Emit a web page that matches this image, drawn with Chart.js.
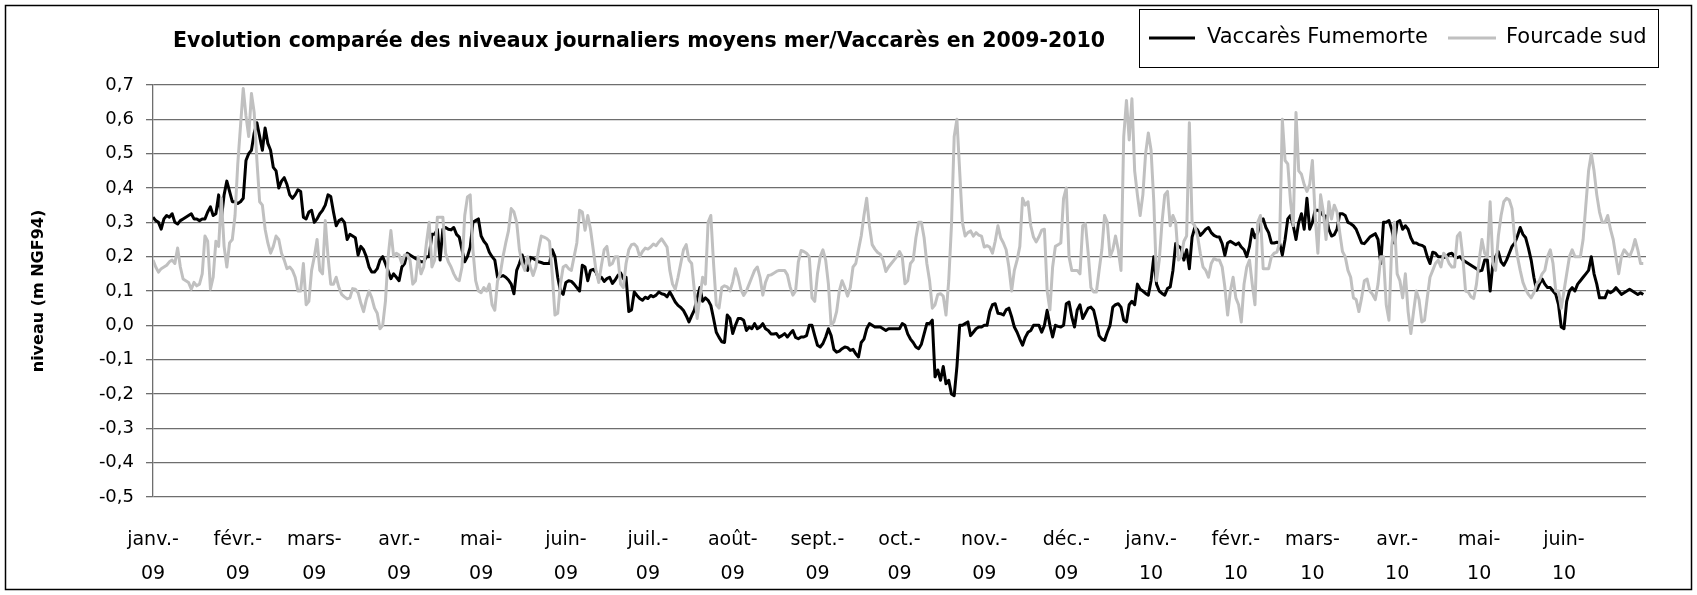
<!DOCTYPE html>
<html><head><meta charset="utf-8">
<script src="https://cdn.jsdelivr.net/npm/chart.js@4"></script>
<style>html,body{margin:0;padding:0;background:#fff}canvas{display:block}</style>
</head><body>
<canvas id="c" width="1697" height="595"></canvas>
<script>
// Day index 0 = 1 Jan 2009
const tickDays = [0,31,59,90,120,151,181,212,243,273,304,334,365,396,424,455,485,516];
const tickMonths = ["janv.-","févr.-","mars-","avr.-","mai-","juin-","juil.-","août-","sept.-","oct.-","nov.-","déc.-","janv.-","févr.-","mars-","avr.-","mai-","juin-"];
const tickYears = ["09","09","09","09","09","09","09","09","09","09","09","09","10","10","10","10","10","10"];
const yTicks = [-0.5,-0.4,-0.3,-0.2,-0.1,0,0.1,0.2,0.3,0.4,0.5,0.6,0.7];

const vaccares = [
0.315,0.305,0.30,0.28,0.31,0.32,0.315,0.325,0.30,0.295,
0.305,0.31,0.315,0.32,0.325,0.31,0.31,0.305,0.31,0.31,
0.33,0.345,0.32,0.325,0.38,0.31,0.38,0.42,0.39,0.36,
0.36,0.355,0.36,0.37,0.48,0.50,0.51,0.56,0.59,0.55,
0.51,0.575,0.53,0.51,0.46,0.45,0.40,0.42,0.43,0.41,
0.38,0.37,0.38,0.395,0.39,0.315,0.31,0.33,0.335,0.30,
0.31,0.325,0.335,0.35,0.38,0.375,0.33,0.29,0.305,0.31,
0.30,0.25,0.265,0.26,0.255,0.205,0.23,0.22,0.2,0.17,
0.155,0.155,0.165,0.19,0.2,0.18,0.158,0.136,0.15,0.14,
0.13,0.17,0.18,0.21,0.205,0.2,0.195,0.19,0.185,0.185,
0.2,0.2,0.265,0.265,0.28,0.19,0.28,0.285,0.28,0.278,
0.285,0.265,0.257,0.22,0.185,0.2,0.228,0.3,0.305,0.31,
0.26,0.245,0.235,0.213,0.2,0.19,0.14,0.142,0.145,0.14,
0.132,0.12,0.092,0.16,0.18,0.205,0.18,0.16,0.198,0.195,
0.19,0.185,0.183,0.18,0.18,0.18,0.22,0.2,0.14,0.1,
0.09,0.125,0.13,0.128,0.12,0.11,0.1,0.175,0.17,0.13,
0.16,0.163,0.155,0.135,0.14,0.128,0.136,0.14,0.122,0.132,
0.145,0.153,0.136,0.14,0.04,0.045,0.097,0.087,0.078,0.073,
0.082,0.078,0.087,0.083,0.088,0.097,0.092,0.09,0.083,0.097,
0.083,0.068,0.058,0.052,0.043,0.028,0.01,0.028,0.045,0.08,
0.11,0.07,0.08,0.073,0.058,0.02,-0.02,-0.035,-0.048,-0.05,
0.03,0.02,-0.024,0.0,0.02,0.02,0.015,-0.015,-0.005,-0.01,
0.005,-0.01,-0.005,0.005,-0.01,-0.015,-0.025,-0.025,-0.024,-0.035,
-0.03,-0.024,-0.034,-0.024,-0.015,-0.035,-0.039,-0.034,-0.034,-0.03,
0.0,0.0,-0.03,-0.058,-0.063,-0.053,-0.034,-0.01,-0.03,-0.07,
-0.078,-0.075,-0.068,-0.063,-0.065,-0.073,-0.07,-0.083,-0.092,-0.05,
-0.04,-0.01,0.005,0.0,-0.005,-0.005,-0.005,-0.01,-0.015,-0.01,
-0.01,-0.01,-0.01,-0.01,0.005,0.0,-0.025,-0.04,-0.05,-0.063,
-0.068,-0.055,-0.025,0.005,0.005,0.015,-0.15,-0.13,-0.16,-0.12,
-0.17,-0.16,-0.2,-0.205,-0.12,0.0,0.0,0.005,0.01,-0.03,
-0.02,-0.01,-0.005,-0.005,0.0,0.0,0.04,0.06,0.063,0.035,
0.034,0.03,0.045,0.05,0.025,-0.005,-0.02,-0.04,-0.058,-0.035,
-0.02,-0.015,0.0,0.0,0.0,-0.02,0.0,0.044,0.0,-0.034,
0.0,-0.003,-0.005,0.0,0.063,0.068,0.025,-0.005,0.045,0.06,
0.02,0.035,0.05,0.053,0.044,0.01,-0.03,-0.04,-0.044,-0.02,
0.0,0.053,0.06,0.063,0.053,0.015,0.01,0.06,0.07,0.06,
0.12,0.105,0.1,0.093,0.088,0.13,0.2,0.12,0.1,0.093,
0.088,0.107,0.112,0.16,0.238,0.23,0.225,0.19,0.22,0.165,
0.257,0.285,0.278,0.262,0.27,0.28,0.285,0.27,0.262,0.258,
0.257,0.238,0.204,0.24,0.245,0.24,0.235,0.24,0.228,0.22,
0.2,0.23,0.28,0.255,0.27,0.3,0.31,0.285,0.27,0.24,
0.24,0.242,0.24,0.205,0.25,0.31,0.32,0.29,0.25,0.3,
0.325,0.28,0.37,0.28,0.3,0.335,0.335,0.33,0.32,0.318,
0.28,0.26,0.264,0.28,0.325,0.325,0.32,0.3,0.296,0.29,
0.28,0.26,0.24,0.238,0.247,0.257,0.262,0.267,0.25,0.18,
0.3,0.3,0.305,0.28,0.24,0.3,0.305,0.28,0.29,0.28,
0.255,0.24,0.24,0.235,0.233,0.228,0.2,0.18,0.213,0.21,
0.2,0.2,0.197,0.2,0.208,0.21,0.2,0.197,0.2,0.19,
0.185,0.18,0.175,0.17,0.165,0.158,0.16,0.19,0.19,0.1,
0.18,0.2,0.215,0.185,0.175,0.19,0.21,0.23,0.24,0.26,
0.285,0.265,0.255,0.225,0.19,0.14,0.102,0.12,0.135,0.12,
0.11,0.11,0.1,0.09,0.06,-0.005,-0.01,0.07,0.1,0.11,
0.1,0.12,0.13,0.14,0.15,0.16,0.2,0.15,0.12,0.08,
0.08,0.08,0.1,0.095,0.1,0.11,0.1,0.09,0.095,0.1,
0.105,0.1,0.095,0.09,0.095,0.09
];

const fourcade = [
0.19,0.17,0.155,0.165,0.17,0.175,0.185,0.19,0.18,0.225,
0.17,0.135,0.13,0.125,0.105,0.125,0.115,0.12,0.15,0.26,
0.245,0.105,0.14,0.245,0.23,0.37,0.23,0.17,0.24,0.25,
0.32,0.47,0.58,0.69,0.61,0.55,0.675,0.62,0.48,0.36,
0.35,0.28,0.24,0.21,0.23,0.26,0.25,0.21,0.19,0.165,
0.17,0.16,0.14,0.10,0.10,0.18,0.06,0.07,0.16,0.20,
0.25,0.16,0.15,0.305,0.2,0.12,0.12,0.14,0.11,0.09,
0.083,0.077,0.08,0.107,0.105,0.095,0.065,0.04,0.075,0.1,
0.08,0.05,0.035,-0.01,0.0,0.07,0.2,0.276,0.2,0.21,
0.205,0.18,0.205,0.205,0.19,0.12,0.13,0.2,0.15,0.17,
0.24,0.3,0.17,0.19,0.315,0.315,0.315,0.21,0.185,0.17,
0.15,0.135,0.13,0.17,0.32,0.374,0.38,0.22,0.13,0.1,
0.095,0.11,0.1,0.12,0.06,0.044,0.13,0.15,0.2,0.24,
0.275,0.34,0.33,0.3,0.22,0.18,0.16,0.2,0.17,0.145,
0.17,0.22,0.26,0.257,0.253,0.245,0.15,0.03,0.035,0.12,
0.17,0.175,0.165,0.16,0.2,0.24,0.335,0.33,0.277,0.32,
0.28,0.22,0.16,0.125,0.175,0.22,0.23,0.175,0.18,0.2,
0.2,0.12,0.11,0.18,0.22,0.235,0.237,0.228,0.2,0.215,
0.225,0.222,0.228,0.237,0.232,0.243,0.252,0.24,0.228,0.16,
0.12,0.105,0.14,0.18,0.22,0.235,0.19,0.18,0.1,0.02,
0.08,0.14,0.12,0.3,0.32,0.18,0.06,0.05,0.11,0.115,
0.112,0.1,0.126,0.165,0.14,0.105,0.087,0.1,0.12,0.14,
0.16,0.17,0.14,0.088,0.125,0.145,0.147,0.152,0.157,0.16,
0.16,0.16,0.147,0.112,0.088,0.1,0.185,0.218,0.215,0.21,
0.2,0.08,0.07,0.15,0.2,0.22,0.19,0.12,0.0,0.01,
0.04,0.1,0.13,0.11,0.085,0.11,0.17,0.18,0.22,0.26,
0.32,0.37,0.29,0.235,0.222,0.212,0.207,0.19,0.157,0.17,
0.18,0.19,0.2,0.215,0.2,0.121,0.13,0.18,0.19,0.255,
0.3,0.3,0.255,0.18,0.13,0.05,0.06,0.09,0.092,0.085,
0.03,0.13,0.29,0.55,0.6,0.45,0.3,0.26,0.27,0.275,
0.26,0.27,0.263,0.26,0.228,0.232,0.228,0.21,0.245,0.29,
0.255,0.24,0.22,0.17,0.1,0.16,0.19,0.23,0.37,0.35,
0.36,0.29,0.257,0.243,0.258,0.277,0.28,0.1,0.045,0.17,
0.23,0.235,0.24,0.37,0.4,0.2,0.16,0.16,0.16,0.15,
0.29,0.296,0.21,0.11,0.097,0.097,0.16,0.22,0.32,0.3,
0.2,0.22,0.26,0.22,0.16,0.55,0.655,0.54,0.66,0.45,
0.38,0.32,0.38,0.5,0.56,0.51,0.36,0.13,0.19,0.3,
0.38,0.39,0.29,0.32,0.3,0.19,0.2,0.245,0.26,0.59,
0.3,0.29,0.26,0.21,0.17,0.16,0.14,0.18,0.195,0.19,
0.19,0.17,0.11,0.03,0.1,0.14,0.08,0.06,0.01,0.12,
0.17,0.19,0.12,0.06,0.3,0.32,0.165,0.165,0.165,0.2,
0.21,0.213,0.24,0.6,0.48,0.47,0.36,0.29,0.62,0.45,
0.44,0.41,0.39,0.41,0.48,0.32,0.21,0.38,0.33,0.25,
0.36,0.31,0.35,0.33,0.27,0.215,0.2,0.16,0.14,0.08,
0.075,0.04,0.08,0.13,0.135,0.1,0.09,0.075,0.12,0.2,
0.2,0.06,0.015,0.23,0.3,0.15,0.13,0.08,0.15,0.04,
-0.024,0.04,0.1,0.075,0.01,0.015,0.08,0.14,0.16,0.18,
0.19,0.17,0.21,0.2,0.18,0.17,0.17,0.26,0.27,0.2,
0.1,0.097,0.083,0.078,0.12,0.19,0.25,0.21,0.2,0.36,
0.18,0.16,0.26,0.32,0.36,0.37,0.365,0.34,0.25,0.2,
0.16,0.125,0.105,0.09,0.08,0.095,0.12,0.13,0.15,0.16,
0.2,0.22,0.18,0.1,0.1,0.05,0.1,0.15,0.2,0.22,
0.2,0.2,0.2,0.25,0.35,0.45,0.5,0.45,0.38,0.33,
0.3,0.3,0.32,0.28,0.25,0.2,0.15,0.2,0.22,0.21,
0.2,0.22,0.25,0.22,0.18,0.18
];

const FONT = '"DejaVu Sans", Verdana, sans-serif';

const frameAndText = {
  id: 'frameAndText',
  beforeDraw(chart) {
    const c = chart.ctx;
    c.save();
    c.fillStyle = '#fff';
    c.fillRect(0, 0, chart.width, chart.height);
    c.restore();
  },
  afterDraw(chart) {
    const c = chart.ctx;
    c.save();
    c.strokeStyle = '#000';
    c.lineWidth = 1.5;
    c.strokeRect(5.5, 5.5, 1686, 584);
    c.fillStyle = '#000';
    c.font = 'bold 20.5px ' + FONT;
    c.textAlign = 'center';
    c.textBaseline = 'middle';
    c.fillText('Evolution comparée des niveaux journaliers moyens mer/Vaccarès en 2009-2010', 639, 42);
    c.lineWidth = 1;
    c.strokeStyle = '#000';
    c.strokeRect(1139.5, 9.5, 519, 58);
    const ds = chart.data.datasets;
    c.font = '21px ' + FONT;
    c.textAlign = 'left';
    c.lineWidth = 3;
    c.strokeStyle = ds[0].borderColor;
    c.beginPath(); c.moveTo(1149, 38); c.lineTo(1195, 38); c.stroke();
    c.fillText(ds[0].label, 1207, 38);
    c.strokeStyle = ds[1].borderColor;
    c.beginPath(); c.moveTo(1448, 38); c.lineTo(1496, 38); c.stroke();
    c.fillText(ds[1].label, 1506, 38);
    c.restore();
  }
};

new Chart(document.getElementById('c'), {
  type: 'line',
  data: {
    datasets: [
      { label: 'Vaccarès Fumemorte', data: vaccares.map((v, i) => ({ x: i, y: v })),
        borderColor: '#000000', borderWidth: 3, pointRadius: 0, tension: 0,
        borderJoinStyle: 'round', order: 1 },
      { label: 'Fourcade sud', data: fourcade.map((v, i) => ({ x: i, y: v })),
        borderColor: '#c0c0c0', borderWidth: 3, pointRadius: 0, tension: 0,
        borderJoinStyle: 'round', order: 0 }
    ]
  },
  options: {
    responsive: false,
    animation: false,
    devicePixelRatio: 1,
    layout: { padding: { left: 0, right: 51, top: 85, bottom: 0 } },
    plugins: { legend: { display: false }, title: { display: false }, tooltip: { enabled: false } },
    scales: {
      x: {
        type: 'linear', min: 0, max: 546,
        afterBuildTicks: s => { s.ticks = tickDays.map(v => ({ value: v })); },
        afterFit: s => { s.height = 98; },
        grid: { display: false, drawTicks: false },
        border: { display: false },
        ticks: {
          autoSkip: false, maxRotation: 0, minRotation: 0, padding: 26, color: '#000',
          font: { family: FONT, size: 19, lineHeight: 1.8 },
          callback: (v) => { const i = tickDays.indexOf(v); return i >= 0 ? [tickMonths[i], tickYears[i]] : ''; }
        }
      },
      y: {
        min: -0.5, max: 0.7,
        afterBuildTicks: s => { s.ticks = yTicks.map(v => ({ value: v })); },
        afterFit: s => { s.width = 153; },
        grid: { color: '#6e6e6e', lineWidth: 1.3, tickLength: 7, drawTicks: true },
        border: { color: '#6e6e6e', width: 1.3 },
        ticks: {
          color: '#000', padding: 12,
          font: { family: FONT, size: 18 },
          callback: v => (Math.round(v * 10) / 10).toFixed(1).replace('.', ',')
        },
        title: {
          display: true, text: 'niveau (m NGF94)', color: '#000',
          font: { family: FONT, size: 16, weight: 'bold' },
          padding: { top: 29, bottom: 0 }
        }
      }
    }
  },
  plugins: [frameAndText]
});
</script>
</body></html>
